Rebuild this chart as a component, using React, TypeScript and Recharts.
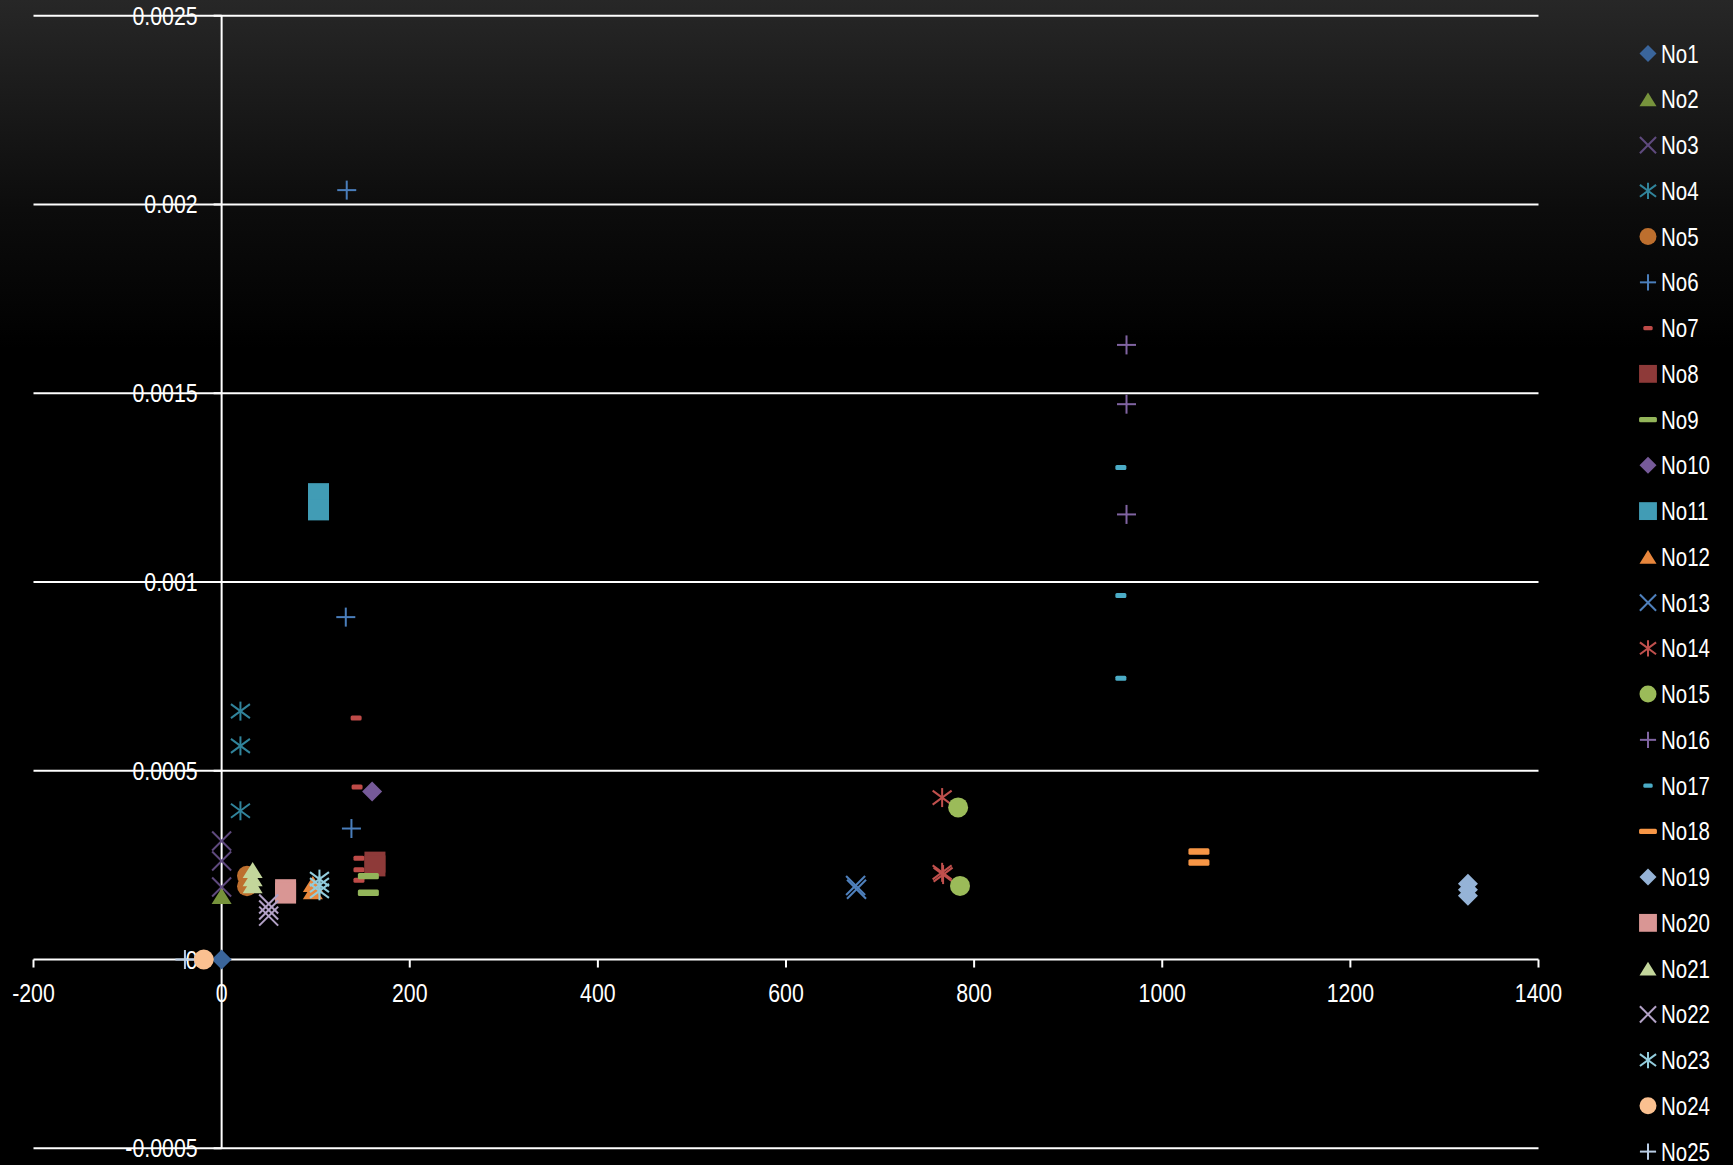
import React from 'react';
import { ScatterChart, Scatter, XAxis, YAxis, ReferenceLine, ReferenceDot } from 'recharts';

type Pt = [number, number];

// Measurements per sample: [x, y]
const no1: Pt[] = [[0, 0]];
const no2: Pt[] = [[0, 0.000168]];
const no3: Pt[] = [[0, 0.000314], [0, 0.000261], [0, 0.000192]];
const no4: Pt[] = [[20, 0.000658], [20, 0.000566], [20, 0.000394]];
const no5: Pt[] = [[27, 0.000222], [27, 0.000194]];
const no6: Pt[] = [[133, 0.002038], [132, 0.000907], [138, 0.000347]];
const no7: Pt[] = [[143, 0.00064], [144, 0.000457], [146, 0.000268], [146, 0.000238], [146, 0.00021]];
const no8: Pt[] = [[163, 0.000258], [163, 0.000248]];
const no9: Pt[] = [[156, 0.000221], [156, 0.000177]];
const no10: Pt[] = [[160, 0.000445]];
const no11: Pt[] = [[103, 0.001234], [103, 0.001191]];
const no12: Pt[] = [[97, 0.0002], [97, 0.000181]];
const no13: Pt[] = [[674, 0.000196], [675, 0.000186]];
const no14: Pt[] = [[766, 0.000429], [766, 0.000231], [767, 0.000225]];
const no15: Pt[] = [[783, 0.000403], [785, 0.000195]];
const no16: Pt[] = [[962, 0.001628], [962, 0.001471], [962, 0.001179]];
const no17: Pt[] = [[956, 0.001303], [956, 0.000964], [956, 0.000745]];
const no18: Pt[] = [[1039, 0.000286], [1039, 0.000257]];
const no19: Pt[] = [[1325, 0.000201], [1325, 0.000185], [1325, 0.000169]];
const no20: Pt[] = [[68, 0.000185], [68, 0.000176]];
const no21: Pt[] = [[33, 0.000237], [33, 0.000215], [33, 0.000197]];
const no22: Pt[] = [[50, 0.000147], [50, 0.000131], [50, 0.000115]];
const no23: Pt[] = [[104, 0.000213], [104, 0.000197], [104, 0.000182]];
const no24: Pt[] = [[-19, 0]];
const no25: Pt[] = [[-39, 0]];

const seriesNames = [
  'No1', 'No2', 'No3', 'No4', 'No5', 'No6', 'No7', 'No8', 'No9', 'No10',
  'No11', 'No12', 'No13', 'No14', 'No15', 'No16', 'No17', 'No18', 'No19', 'No20',
  'No21', 'No22', 'No23', 'No24', 'No25',
];
const seriesPoints = [
  no1, no2, no3, no4, no5, no6, no7, no8, no9, no10,
  no11, no12, no13, no14, no15, no16, no17, no18, no19, no20,
  no21, no22, no23, no24, no25,
];
const seriesColors = [
  '#3A659B', '#77933C', '#5F4A7E', '#31849B', '#BD6F2E', '#4A7EBB', '#BE4B48', '#8E3A39', '#93B55A', '#765A99',
  '#419CB5', '#E8863C', '#4F81BD', '#C0504D', '#9BBB59', '#8064A2', '#4BACC6', '#F79646', '#95B3D7', '#D99694',
  '#C3D69B', '#B3A2C7', '#93CDDD', '#FAC090', '#B9CDE5',
];
const seriesMarkers = [
  'diamond', 'triangle', 'x', 'star', 'circle', 'plus', 'dash', 'square', 'longDash', 'diamond',
  'square', 'triangle', 'x', 'star', 'circle', 'plus', 'dash', 'longDash', 'diamond', 'square',
  'triangle', 'x', 'star', 'circle', 'plus',
];

const xTicks = [-200, 0, 200, 400, 600, 800, 1000, 1200, 1400];
const xTickLabels = ['-200', '0', '200', '400', '600', '800', '1000', '1200', '1400'];
const yTicks = [-0.0005, 0, 0.0005, 0.001, 0.0015, 0.002, 0.0025];
const yTickLabels = ['-0.0005', '0', '0.0005', '0.001', '0.0015', '0.002', '0.0025'];

// Liberation Sans squeezed horizontally to read like a narrow face
const FONT = "'Liberation Sans', Arial, sans-serif";
const NARROW = 0.82;
const W = 1733;
const H = 1165;

function NarrowText({ x, y, anchor, size, children }: { x: number; y: number; anchor?: string; size: number; children: string }) {
  return (
    <text
      transform={`translate(${x},${y}) scale(${NARROW},1)`}
      x={0}
      y={0}
      textAnchor={anchor || 'start'}
      fill="#fff"
      fontSize={size}
      fontFamily={FONT}
    >
      {children}
    </text>
  );
}

function drawMarker(kind: string, cx: number, cy: number, color: string, s: number) {
  switch (kind) {
    case 'diamond': {
      const h = 10 * s;
      return <polygon points={`${cx},${cy - h} ${cx + h},${cy} ${cx},${cy + h} ${cx - h},${cy}`} fill={color} />;
    }
    case 'triangle': {
      const w = 10 * s;
      const h = 8 * s;
      return <polygon points={`${cx},${cy - h} ${cx + w},${cy + h} ${cx - w},${cy + h}`} fill={color} />;
    }
    case 'square': {
      const a = 10.5 * s;
      return <rect x={cx - a} y={cy - a} width={2 * a} height={2 * a} fill={color} />;
    }
    case 'circle':
      return <circle cx={cx} cy={cy} r={10 * s} fill={color} />;
    case 'x': {
      const a = 9.5 * s;
      return (
        <g stroke={color} strokeWidth={2}>
          <line x1={cx - a} y1={cy - a} x2={cx + a} y2={cy + a} />
          <line x1={cx - a} y1={cy + a} x2={cx + a} y2={cy - a} />
        </g>
      );
    }
    case 'star': {
      const a = 9.5 * s;
      const b = 7 * s;
      return (
        <g stroke={color} strokeWidth={2}>
          <line x1={cx - a} y1={cy - b} x2={cx + a} y2={cy + b} />
          <line x1={cx - a} y1={cy + b} x2={cx + a} y2={cy - b} />
          <line x1={cx} y1={cy - a} x2={cx} y2={cy + a} />
        </g>
      );
    }
    case 'plus': {
      const a = 9.5 * s;
      return (
        <g stroke={color} strokeWidth={2}>
          <line x1={cx - a} y1={cy} x2={cx + a} y2={cy} />
          <line x1={cx} y1={cy - a} x2={cx} y2={cy + a} />
        </g>
      );
    }
    case 'dash':
      return <rect x={cx - 5.5 * s} y={cy - 2.5 * s} width={11 * s} height={5 * s} rx={1.5} fill={color} />;
    case 'longDash':
      return <rect x={cx - 10.5 * s} y={cy - 3.2 * s} width={21 * s} height={6.4 * s} rx={1.5} fill={color} />;
    default:
      return null;
  }
}

const XTick = (label: string) => (props: any) => {
  const { cx, cy } = props;
  return (
    <g>
      <line x1={cx} y1={cy} x2={cx} y2={cy + 8} stroke="#fff" strokeWidth={2} />
      <NarrowText x={cx} y={cy + 42} anchor="middle" size={26}>{label}</NarrowText>
    </g>
  );
};

const YTick = (label: string) => (props: any) => {
  const { cx, cy } = props;
  return (
    <g>
      <line x1={cx - 8} y1={cy} x2={cx} y2={cy} stroke="#fff" strokeWidth={2} />
      <NarrowText x={cx - 24} y={cy + 9} anchor="end" size={26}>{label}</NarrowText>
    </g>
  );
};

function LegendPanel() {
  return (
    <svg width={W} height={H} style={{ position: 'absolute', left: 0, top: 0, pointerEvents: 'none' }}>
      {seriesNames.map((name, i) => {
        const cy = 53.6 + i * 45.75;
        return (
          <g key={name}>
            {drawMarker(seriesMarkers[i], 1648, cy, seriesColors[i], 0.85)}
            <NarrowText x={1661} y={cy + 9} size={25}>{name}</NarrowText>
          </g>
        );
      })}
    </svg>
  );
}

export default function App() {
  return (
    <div
      style={{
        position: 'absolute',
        left: 0,
        top: 0,
        width: W,
        height: H,
        background: 'linear-gradient(to bottom, #272727 0%, #0c0c0c 18%, #000 30%, #000 100%)',
      }}
    >
      <style>{'body{margin:0;}'}</style>
      <ScatterChart width={W} height={H} margin={{ top: 15.7, right: 194.5, bottom: 16.7, left: 33.5 }}>
        <XAxis type="number" dataKey="x" domain={[-200, 1400]} ticks={xTicks} hide />
        <YAxis type="number" dataKey="y" domain={[-0.0005, 0.0025]} ticks={yTicks} hide />
        {yTicks.map((t) => (
          <ReferenceLine key={`g${t}`} y={t} stroke="#fff" strokeWidth={2} />
        ))}
        <ReferenceLine x={0} stroke="#fff" strokeWidth={2} />
        {xTicks.map((t, i) => (
          <ReferenceDot key={`xt${t}`} x={t} y={0} shape={XTick(xTickLabels[i])} ifOverflow="visible" />
        ))}
        {yTicks.map((t, i) => (
          <ReferenceDot key={`yt${t}`} x={0} y={t} shape={YTick(yTickLabels[i])} ifOverflow="visible" />
        ))}
        {seriesNames.map((name, i) => (
          <Scatter
            key={name}
            name={name}
            data={seriesPoints[i].map(([x, y]) => ({ x, y }))}
            fill={seriesColors[i]}
            isAnimationActive={false}
            shape={(p: any) => drawMarker(seriesMarkers[i], p.cx, p.cy, seriesColors[i], 1)}
          />
        ))}
      </ScatterChart>
      <LegendPanel />
    </div>
  );
}
